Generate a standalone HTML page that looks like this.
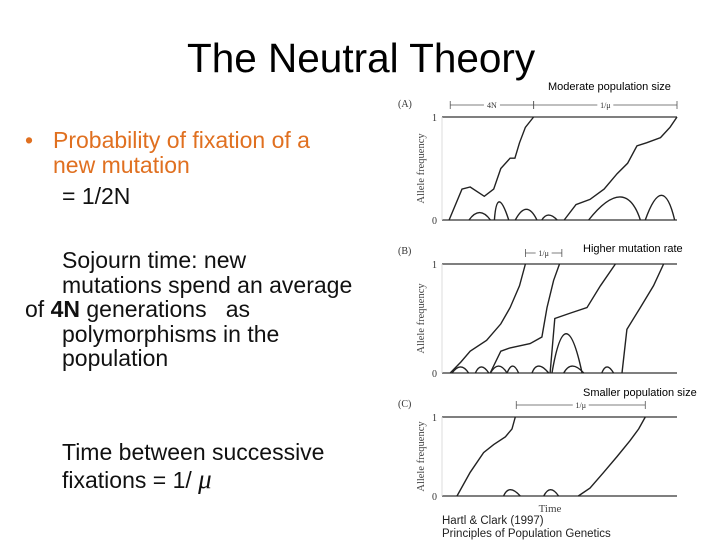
<!DOCTYPE html>
<html><head><meta charset="utf-8"><style>
body{margin:0;width:720px;height:540px;background:#fff;position:relative;overflow:hidden;font-family:"Liberation Sans",sans-serif}
.t{position:absolute;white-space:nowrap;line-height:1}
.o{color:#e07020;font-size:23px}
.k{color:#111;font-size:23px}
</style></head><body>
<div class="t" style="left:187px;top:38px;font-size:40.5px;color:#000">The Neutral Theory</div>
<div class="t o" style="left:25px;top:129px">•</div>
<div class="t o" style="left:53px;top:129px">Probability of fixation of a</div>
<div class="t o" style="left:53px;top:154px">new mutation</div>
<div class="t k" style="left:62px;top:185px">= 1/2N</div>
<div class="t k" style="left:62px;top:249px">Sojourn time: new</div>
<div class="t k" style="left:62px;top:274px">mutations spend an average</div>
<div class="t k" style="left:25px;top:298px">of <b>4N</b> generations &nbsp;&nbsp;as</div>
<div class="t k" style="left:62px;top:323px">polymorphisms in the</div>
<div class="t k" style="left:62px;top:347px">population</div>
<div class="t k" style="left:62px;top:441px">Time between successive</div>
<div class="t k" style="left:62px;top:466px">fixations = 1/ <i style="font-family:'Liberation Serif',serif;font-size:27px">μ</i></div>
<svg id="fig" width="720" height="540" style="position:absolute;left:0;top:0" font-family="Liberation Serif, serif"></svg>
<script>
// Panel A
const aTimes1=[3,8.5,12,18,22,25,29,31,33,35.5,39];
const aFreq1=[0,0.3,0.32,0.23,0.3,0.5,0.6,0.6,0.75,0.9,1];
const aTimes2=[52,57,63,69,74.5,79,83,87,93,97,100];
const aFreq2=[0,0.15,0.2,0.3,0.45,0.55,0.72,0.75,0.8,0.9,1];
const aBumpStart=[11.5,22.3,31.2,42.5,62.4,86.5];
const aBumpPeakT=[16,23.4,36,45,78,94];
const aBumpPeak=[0.09,0.22,0.13,0.06,0.28,0.3];
const aBumpEnd=[20.6,28.4,40.4,49,84.4,99];
// Panel B
const bTimes1=[3.5,8,12,19,25,29,33,35.5];
const bFreq1=[0,0.1,0.2,0.3,0.45,0.6,0.8,1];
const bTimes2=[20.5,25,29,37.5,42.5,44.7,47.5,50];
const bFreq2=[0,0.2,0.23,0.27,0.33,0.6,0.85,1];
const bTimes3=[46,48,54.6,61.7,67.4,73.8];
const bFreq3=[0,0.5,0.55,0.6,0.8,1];
const bTimes4=[76.6,78.7,84.4,90,94.3];
const bFreq4=[0,0.4,0.6,0.8,1];
const bBumpStart=[4.3,14.2,20.6,27.7,38.3,46.8,51.8,68];
const bBumpPeakT=[8,16.5,24,30,40.5,52.5,55,70];
const bBumpPeak=[0.07,0.07,0.08,0.08,0.08,0.45,0.08,0.07];
const bBumpEnd=[11.3,19.9,27.7,32.6,45.4,59.6,60.3,73];
// Panel C
const cTimes1=[6.4,12,17.7,22,27,29.8,31.2];
const cFreq1=[0,0.3,0.55,0.65,0.75,0.85,1];
const cTimes2=[58,63,68.8,74.5,80,83.7,86.5];
const cFreq2=[0,0.1,0.3,0.5,0.7,0.85,1];
const cBumpStart=[26.2,43.3];
const cBumpPeakT=[28.5,46];
const cBumpPeak=[0.1,0.1];
const cBumpEnd=[33.3,49.6];

const svg=document.getElementById('fig');
const NS='http://www.w3.org/2000/svg';
const X0=442,X1=677;
const panels=[
 {id:'a',label:'(A)',y0:220,y1:117,series:[[aTimes1,aFreq1],[aTimes2,aFreq2]],bs:aBumpStart,bt:aBumpPeakT,bp:aBumpPeak,be:aBumpEnd,spans:[[3.5,39,'4N','e'],[39,100,'1/μ','']],sy:105,ttl:'Moderate population size',tx:548,ty:90},
 {id:'b',label:'(B)',y0:373,y1:264,series:[[bTimes1,bFreq1],[bTimes2,bFreq2],[bTimes3,bFreq3],[bTimes4,bFreq4]],bs:bBumpStart,bt:bBumpPeakT,bp:bBumpPeak,be:bBumpEnd,spans:[[35.5,51,'1/μ','']],sy:253,ttl:'Higher mutation rate',tx:583,ty:252},
 {id:'c',label:'(C)',y0:496,y1:417,series:[[cTimes1,cFreq1],[cTimes2,cFreq2]],bs:cBumpStart,bt:cBumpPeakT,bp:cBumpPeak,be:cBumpEnd,spans:[[31.6,86.5,'1/μ','']],sy:405,ttl:'Smaller population size',tx:583,ty:396}
];
function el(tag,attrs){const e=document.createElementNS(NS,tag);for(const k in attrs)e.setAttribute(k,attrs[k]);svg.appendChild(e);return e;}
panels.forEach(p=>{
 const xs=t=>X0+(X1-X0)*t/100;
 const ys=f=>p.y0+(p.y1-p.y0)*f;
 let e=el('line',{x1:X0,x2:X1,y1:p.y0,y2:p.y0,stroke:'#333','stroke-width':1.2});
 
 e=el('line',{x1:X0,x2:X1,y1:p.y1,y2:p.y1,stroke:'#333','stroke-width':1.2});
 
 e=el('line',{x1:X0,x2:X0,y1:p.y0,y2:p.y1,stroke:'#ddd','stroke-width':1});
 
 e=el('text',{x:432,y:p.y0+4,'font-size':10,fill:'#333'});e.textContent='0';
 
 e=el('text',{x:432,y:p.y1+4,'font-size':10,fill:'#333'});e.textContent='1';
 
 e=el('text',{x:398,y:p.y1-10,'font-size':10,fill:'#333'});e.textContent=p.label;
 
 const my=(p.y0+p.y1)/2;
 e=el('text',{x:424,y:my,'font-size':10.5,fill:'#444','text-anchor':'middle',transform:'rotate(-90 424 '+my+')'});e.textContent='Allele frequency';
 
 e=el('text',{x:p.tx,y:p.ty,'font-size':11,fill:'#000','font-family':'Liberation Sans, sans-serif'});e.textContent=p.ttl;
 
 p.series.forEach((s,i)=>{
  const d=s[0].map((t,j)=>(j?'L':'M')+xs(t).toFixed(1)+','+ys(s[1][j]).toFixed(1)).join('');
  const q=el('path',{d:d,fill:'none',stroke:'#222','stroke-width':1.4});
  
  
 });
 p.bs.forEach((b,i)=>{
  const d='M'+xs(b)+','+p.y0+'Q'+xs(p.bt[i])+','+ys(p.bp[i]*1.6)+' '+xs(p.be[i])+','+p.y0;
  const q=el('path',{d:d,fill:'none',stroke:'#222','stroke-width':1.4});
  
  
 });
 p.spans.forEach((sp,i)=>{
  const a=xs(sp[0]),b=xs(sp[1]);
  const q=el('line',{x1:a,x2:b,y1:p.sy,y2:p.sy,stroke:'#555','stroke-width':0.8});
  
  
  [a,b].forEach(x=>{const t=el('line',{x1:x,x2:x,y1:p.sy-4,y2:p.sy+4,stroke:'#555','stroke-width':0.8});
   });
  const lx=(a+b)/2;
  el('rect',{x:lx-8,y:p.sy-6,width:16,height:12,fill:'#fff'});
  const lt=el('text',{x:lx,y:p.sy+3,'font-size':8,fill:'#333','text-anchor':'middle'});lt.textContent=sp[2];
  
 });
});
let e2=el('text',{x:550,y:512,'font-size':11,fill:'#444','text-anchor':'middle'});e2.textContent='Time';

e2=el('text',{x:442,y:524,'font-size':11.5,fill:'#222','font-family':'Liberation Sans, sans-serif'});e2.textContent='Hartl & Clark (1997)';

e2=el('text',{x:442,y:537,'font-size':11.5,fill:'#222','font-family':'Liberation Sans, sans-serif'});e2.textContent='Principles of Population Genetics';

</script>
</body></html>
